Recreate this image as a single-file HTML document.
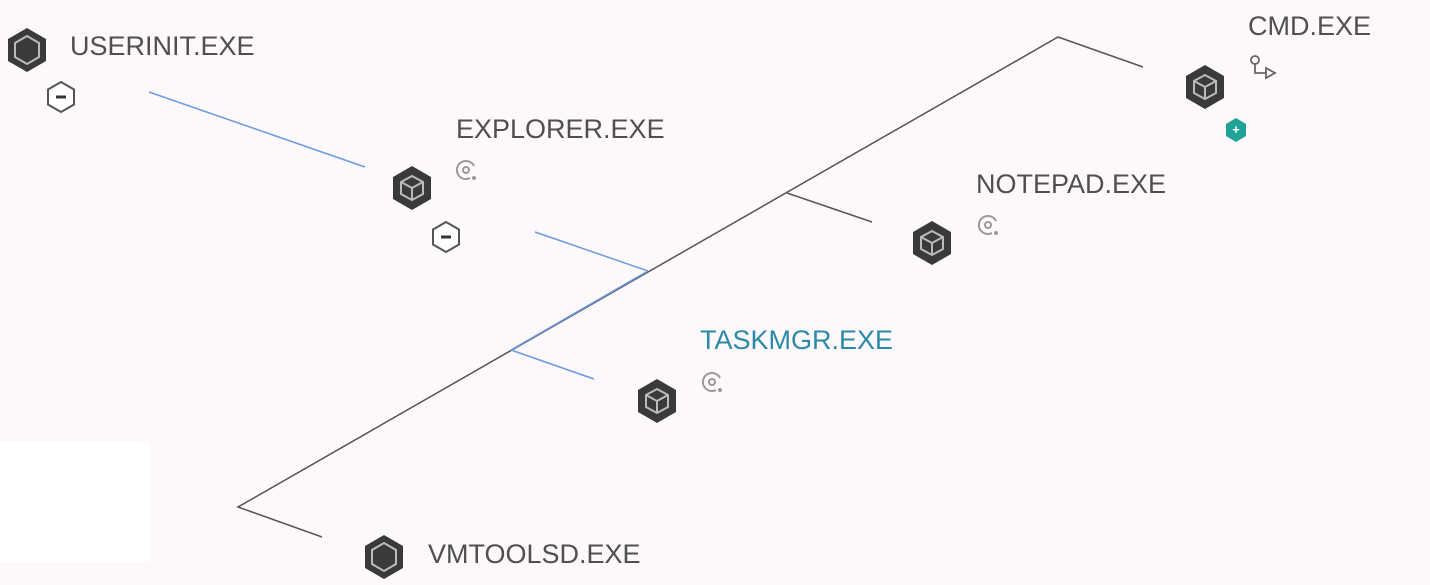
<!DOCTYPE html>
<html><head><style>
body{margin:0;width:1430px;height:585px;background:#fcf8fc;overflow:hidden;position:relative;font-family:"Liberation Sans",sans-serif}
.t{position:absolute;font-size:27px;color:#4f4f4f;letter-spacing:0}
</style></head><body>
<div style="position:absolute;left:0;top:442px;width:150px;height:120px;background:#fff"></div>
<svg width="1430" height="585" style="position:absolute;left:0;top:0">
<defs>
<g id="cube"><polygon points="0,-22 19,-11 19,11 0,22 -19,11 -19,-11" fill="#3a3a3c"/>
<polygon points="0,-12 11,-6 11,6 0,12 -11,6 -11,-6" fill="#3a3a3c" stroke="#bbb" stroke-width="2"/>
<polyline points="-11,-6 0,0 11,-6 M0,0" fill="none" stroke="#bbb" stroke-width="2"/><line x1="0" y1="0" x2="0" y2="12" stroke="#bbb" stroke-width="2"/></g>
<g id="hex"><polygon points="0,-22 19,-11 19,11 0,22 -19,11 -19,-11" fill="#3a3a3c"/>
<polygon points="0,-14 12,-7 12,7 0,14 -12,7 -12,-7" fill="#3a3a3c" stroke="#bbb" stroke-width="2"/></g>
<g id="minus"><polygon points="0,-15 13,-7.5 13,7.5 0,15 -13,7.5 -13,-7.5" fill="#fff" stroke="#555" stroke-width="2"/><line x1="-5" y1="0" x2="5" y2="0" stroke="#333" stroke-width="3"/></g>
<g id="tgt"><path d="M8,-4 A9,9 0 1 0 4,8" fill="none" stroke="#999" stroke-width="2"/><circle cx="0" cy="0" r="3" fill="none" stroke="#999" stroke-width="2"/><circle cx="8" cy="8" r="2" fill="#999"/></g>
</defs>
<g fill="none" stroke="#555" stroke-width="1.5">
<polyline points="322,537 238,507 1058,37 1143,67"/>
<line x1="787" y1="193" x2="872" y2="222"/>
</g>
<g fill="none" stroke="#6a9be0" stroke-width="1.5">
<line x1="149" y1="92" x2="365" y2="167"/>
<line x1="535" y1="232" x2="648" y2="271"/>
<line x1="648" y1="271" x2="511" y2="350"/>
<line x1="511" y1="350" x2="594" y2="379"/>
</g>
<use href="#hex" x="27" y="50"/>
<use href="#minus" x="61" y="97"/>
<use href="#cube" x="412" y="188"/>
<use href="#minus" x="446" y="237"/>
<use href="#tgt" x="466" y="170"/>
<use href="#cube" x="932" y="243"/>
<use href="#tgt" x="988" y="225"/>
<use href="#cube" x="657" y="401"/>
<use href="#tgt" x="712" y="382"/>
<use href="#cube" x="1205" y="87"/>
<g fill="none" stroke="#666" stroke-width="1.8"><circle cx="1255" cy="60" r="4"/><polyline points="1255,64 1255,73 1266,73"/><polygon points="1266,68 1275,73 1266,78"/></g>
<polygon points="1236,118 1246,124 1246,136 1236,142 1226,136 1226,124" fill="#1fa396"/>
<text x="1236" y="134" font-size="13" fill="#fff" text-anchor="middle" font-weight="bold" font-family="Liberation Sans">+</text>
<use href="#hex" x="384" y="557"/>
</svg>
<div class="t" style="left:70px;top:31px">USERINIT.EXE</div>
<div class="t" style="left:456px;top:114px">EXPLORER.EXE</div>
<div class="t" style="left:976px;top:169px">NOTEPAD.EXE</div>
<div class="t" style="left:700px;top:325px;color:#2a8aa8">TASKMGR.EXE</div>
<div class="t" style="left:1248px;top:11px">CMD.EXE</div>
<div class="t" style="left:428px;top:539px">VMTOOLSD.EXE</div>
</body></html>
